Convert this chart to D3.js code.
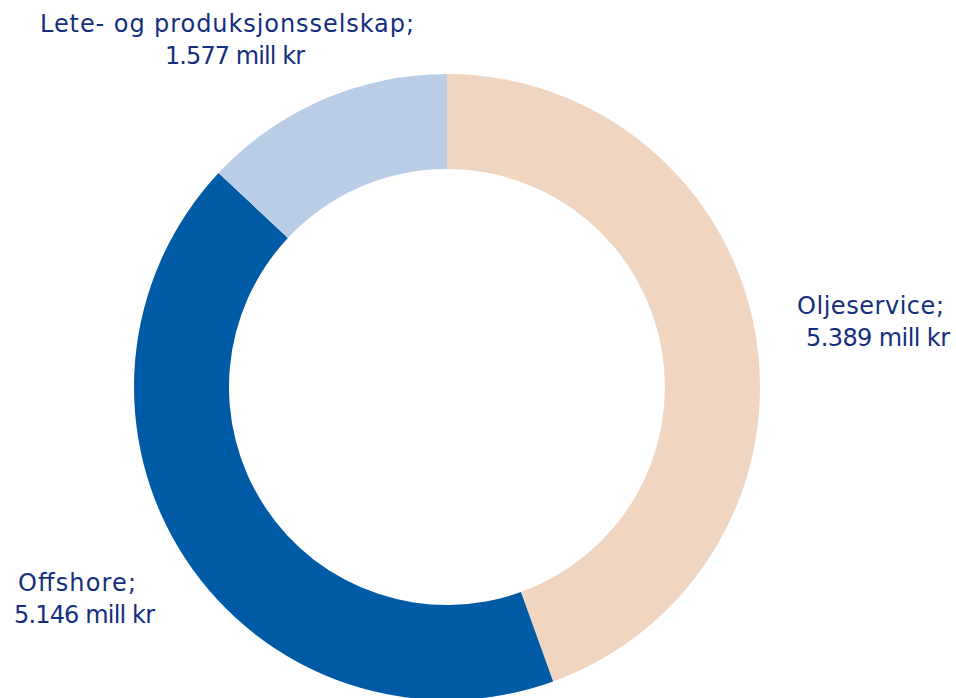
<!DOCTYPE html>
<html>
<head>
<meta charset="utf-8">
<script src="https://cdn.jsdelivr.net/npm/d3@7"></script>
<style>
  html, body { margin: 0; padding: 0; background: #ffffff; }
  svg { display: block; }
  text { font-family: "DejaVu Sans", "Noto Sans", sans-serif; fill: #142f7e; }
</style>
</head>
<body>
<svg id="chart" width="956" height="698"></svg>
<script>
// Segments, in drawing order clockwise from 12 o'clock (mill kr)
const segments = ["Oljeservice", "Offshore", "Lete- og produksjonsselskap"];
const values = [5389, 5146, 1577];
const colors = ["#f0d5c1", "#005ba6", "#b9cee6"];
// Label lines for each segment
const labelLines = [
  ["Oljeservice;", "5.389 mill kr"],
  ["Offshore;", "5.146 mill kr"],
  ["Lete- og produksjonsselskap;", "1.577 mill kr"]
];

const svg = d3.select("#chart");
const cx = 447, cy = 387;
const outerR = 313, innerR = 218;

const pie = d3.pie().sort(null).value(d => d)(values);
const arc = d3.arc().innerRadius(innerR).outerRadius(outerR);

const g = svg.append("g").attr("transform", `translate(${cx},${cy})`);
g.selectAll("path")
  .data(pie)
  .join("path")
  .attr("d", arc)
  .attr("fill", (d, i) => colors[i]);

// Label placement: start x and width of each line, first baseline y
const labelPos = [
  { xs: [797, 806], ws: [147, 144], y: 314 },
  { xs: [18, 14], ws: [118, 141], y: 591 },
  { xs: [40, 165], ws: [374, 140], y: 32 }
];
const lineH = 32;

labelLines.forEach((lines, i) => {
  const p = labelPos[i];
  lines.forEach((ln, j) => {
    svg.append("text")
      .attr("font-size", 24)
      .attr("x", p.xs[j])
      .attr("y", p.y + j * lineH)
      .attr("textLength", p.ws[j])
      .attr("lengthAdjust", "spacing")
      .text(ln);
  });
});
</script>
</body>
</html>
